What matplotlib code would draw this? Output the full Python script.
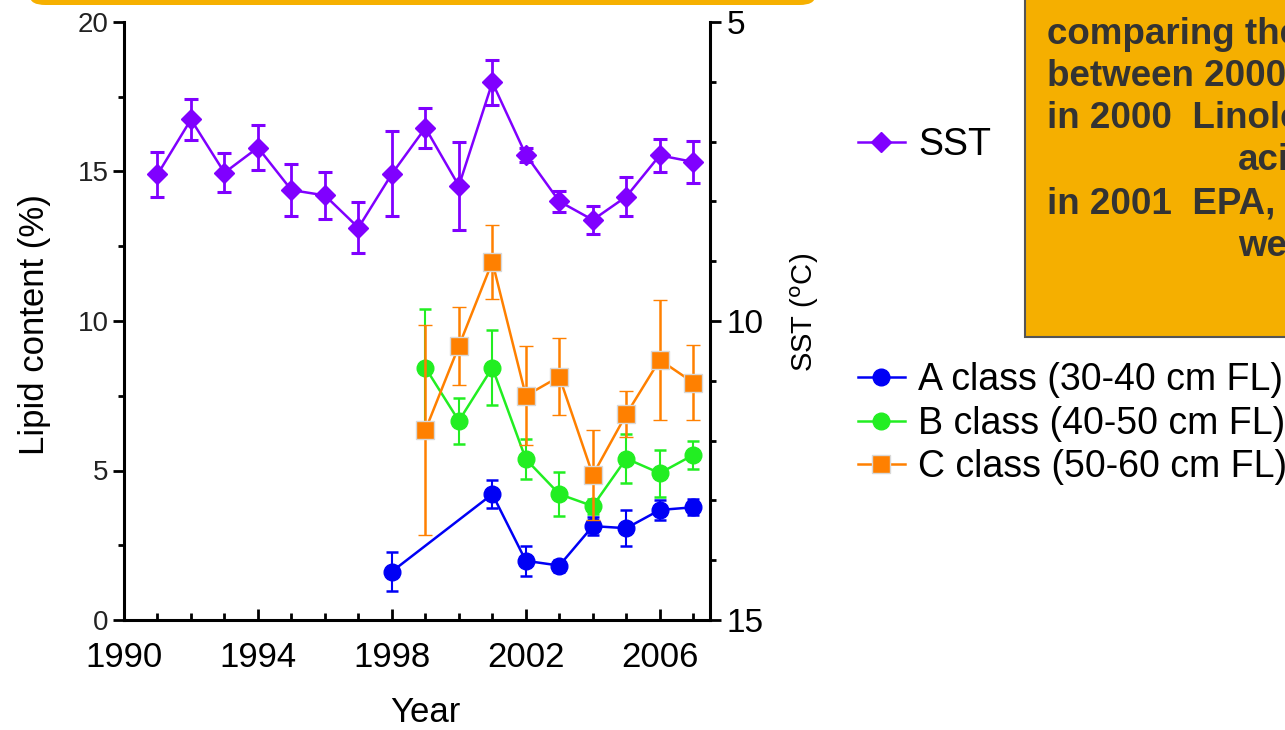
import matplotlib.pyplot as plt
from matplotlib.patches import Rectangle, FancyBboxPatch
from matplotlib.lines import Line2D
from matplotlib.ticker import MultipleLocator, FixedLocator

plt.rcParams['font.family'] = ['Liberation Sans', 'DejaVu Sans']

# SST (deg C) on the right, inverted axis
sst_years = list(range(1991, 2008))
sst = [7.55, 6.63, 7.52, 7.10, 7.81, 7.90, 8.44, 7.54, 6.77, 7.74,
       6.01, 7.22, 8.00, 8.31, 7.92, 7.23, 7.34]
sst_err = [0.37, 0.34, 0.33, 0.37, 0.44, 0.40, 0.43, 0.71, 0.34, 0.74,
           0.37, 0.12, 0.17, 0.23, 0.33, 0.27, 0.35]

# lipid content (%) by size class
a_years = [1998, 2001, 2002, 2003, 2004, 2005, 2006, 2007]
a_lipid = [1.62, 4.21, 1.98, 1.82, 3.14, 3.07, 3.68, 3.77]
a_err = [0.65, 0.48, 0.50, 0.20, 0.30, 0.60, 0.35, 0.27]

b_years = list(range(1999, 2008))
b_lipid = [8.44, 6.66, 8.44, 5.38, 4.21, 3.81, 5.40, 4.91, 5.52]
b_err = [1.95, 0.78, 1.25, 0.68, 0.73, 0.25, 0.82, 0.78, 0.48]

c_years = list(range(1999, 2008))
c_lipid = [6.35, 9.16, 11.98, 7.50, 8.14, 4.85, 6.88, 8.70, 7.94]
c_err = [3.50, 1.30, 1.23, 1.65, 1.28, 1.50, 0.77, 2.00, 1.25]

year_ticks = [1990, 1994, 1998, 2002, 2006]

box_lines = ["comparing the", "between 2000", "in 2000  Linole", "aci",
             "in 2001  EPA,", "we"]

W, H = 1285, 730
fig = plt.figure(figsize=(W / 100, H / 100), dpi=100)

def fx(px):
    return px / W

def fy(py):
    return 1 - py / H

ax = fig.add_axes([fx(124), fy(620), fx(710) - fx(124), fy(22) - fy(620)])
ax2 = ax.twinx()

purple = '#8000FF'
blue = '#0000F5'
green = '#22EE22'
orange = '#FF8000'

ax.errorbar(a_years, a_lipid, yerr=a_err, color=blue, marker='o', ms=12,
            lw=1.8, capsize=4, capthick=1.8, elinewidth=1.5, zorder=3)
ax.errorbar(b_years, b_lipid, yerr=b_err, color=green, marker='o', ms=12,
            lw=1.8, capsize=4, capthick=1.8, elinewidth=1.5, zorder=3)
ax.errorbar(c_years, c_lipid, yerr=c_err, color=orange, marker='s', ms=13,
            mec='#d8d8d8', mew=1, lw=1.8, capsize=5, capthick=2,
            elinewidth=1.8, zorder=4)
ax2.errorbar(sst_years, sst, yerr=sst_err, color=purple, marker='D', ms=10,
             lw=1.8, capsize=5, capthick=2.2, elinewidth=2, zorder=3)

ax.set_xlim(1990, 2007.5)
ax.set_ylim(0, 20)
ax2.set_ylim(15, 5)

ax.xaxis.set_major_locator(FixedLocator(year_ticks))
ax.xaxis.set_minor_locator(MultipleLocator(1))
ax.yaxis.set_major_locator(MultipleLocator(5))
ax.yaxis.set_minor_locator(MultipleLocator(2.5))
ax2.yaxis.set_major_locator(MultipleLocator(5))
ax2.yaxis.set_minor_locator(MultipleLocator(1))

for a in (ax, ax2):
    a.spines['top'].set_visible(False)
    for s in a.spines.values():
        s.set_linewidth(2.2)
ax.spines['right'].set_visible(False)
ax2.spines['left'].set_visible(False)
ax2.spines['bottom'].set_visible(False)

ax.tick_params(axis='x', which='major', direction='in', length=8, width=2,
               labelsize=25, pad=15)
ax.tick_params(axis='x', which='minor', direction='in', length=5, width=2)
ax.tick_params(axis='y', which='major', direction='out', length=8, width=2,
               labelsize=20, pad=3, labelcolor='#222222')
ax.tick_params(axis='y', which='minor', direction='out', length=4, width=2)
ax2.tick_params(axis='y', which='major', direction='out', length=8, width=2,
                labelsize=24, pad=4)
ax2.tick_params(axis='y', which='minor', direction='out', length=4, width=2)

fig.text(fx(35), fy(325), 'Lipid content (%)', rotation=90, ha='center',
         va='center', fontsize=25)
fig.text(fx(425), fy(712), 'Year', ha='center', va='center', fontsize=25)
fig.text(fx(805), fy(312), r'SST ($^{\rm o}$C)', rotation=90, ha='center',
         va='center', fontsize=21)

# legends
h_sst = Line2D([], [], color=purple, marker='D', ms=10, lw=1.8)
fig.legend([h_sst], ['SST'], loc='center left',
           bbox_to_anchor=(fx(858), fy(145)), frameon=False, fontsize=27,
           handlelength=1.25, handletextpad=0.35, borderpad=0, borderaxespad=0)
h_a = Line2D([], [], color=blue, marker='o', ms=12, lw=1.8)
h_b = Line2D([], [], color=green, marker='o', ms=12, lw=1.8)
h_c = Line2D([], [], color=orange, marker='s', ms=13, mec='#d8d8d8', lw=1.8)
fig.legend([h_a, h_b, h_c],
           ['A class (30-40 cm FL)', 'B class (40-50 cm FL)',
            'C class (50-60 cm FL)'],
           loc='center left', bbox_to_anchor=(fx(858), fy(424)),
           frameon=False, fontsize=27, handlelength=1.25, handletextpad=0.35,
           labelspacing=0.2, borderpad=0, borderaxespad=0)

# orange banner at top left and text box at top right
fig.patches.append(FancyBboxPatch((fx(30), fy(5)), fx(785), 0.05,
                                  boxstyle='round,pad=0,rounding_size=0.012',
                                  transform=fig.transFigure, fc='#F6B000',
                                  ec='none', zorder=0))
fig.patches.append(Rectangle((fx(1025), fy(337)), fx(300), fy(0) - fy(337) + 0.01,
                             transform=fig.transFigure, fc='#F5AF00',
                             ec='#555555', lw=1.5, zorder=0))
line_y = [34, 76, 119, 161, 204, 247]
line_x = [1047, 1047, 1047, 1238, 1047, 1238]
for s, xx, yy in zip(box_lines, line_x, line_y):
    fig.text(fx(xx), fy(yy), s, ha='left', va='center', fontsize=26.5,
             fontweight='bold', color='#333333')

fig.savefig('out.png', dpi=100)
